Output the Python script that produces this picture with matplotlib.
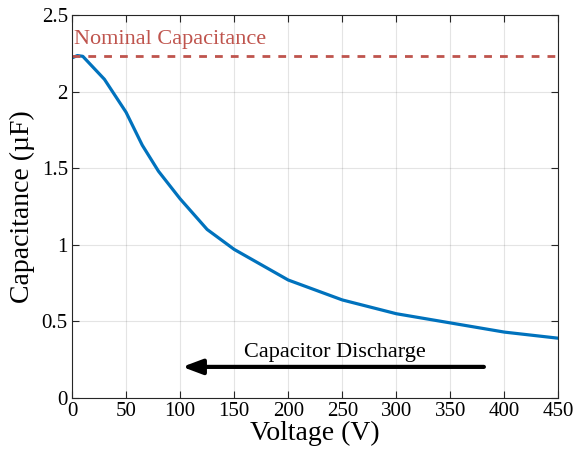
import matplotlib.pyplot as plt

plt.rcParams['font.family'] = ['Liberation Serif', 'DejaVu Serif']

# data
voltage = [0, 5, 10, 30, 50, 65, 80, 100, 125, 150, 200, 250, 300, 350, 400, 450]
capacitance = [2.22, 2.235, 2.23, 2.08, 1.865, 1.65, 1.48, 1.30, 1.10, 0.97, 0.77, 0.64, 0.55, 0.49, 0.43, 0.39]
nominal = 2.235

xticks = [0, 50, 100, 150, 200, 250, 300, 350, 400, 450]
yticks = [0, 0.5, 1, 1.5, 2, 2.5]
ytick_labels = ['0', '0.5', '1', '1.5', '2', '2.5']

blue = (0, 0.447, 0.741)
red = (0.75, 0.33, 0.30)
axis_col = (0.15, 0.15, 0.15)

fig = plt.figure(figsize=(5.76, 4.55), dpi=100)
ax = fig.add_axes([0.125, 0.1253, 0.8446, 0.8418])

ax.plot(voltage, capacitance, color=blue, linewidth=2.3)
ax.axhline(nominal, color=red, linestyle=(0, (2.8, 2.9)), linewidth=2)
ax.text(2, 2.31, 'Nominal Capacitance', color=red, fontsize=16, ha='left', va='baseline')

ax.annotate('', xy=(102, 0.203), xytext=(381, 0.203),
            arrowprops=dict(arrowstyle='-|>,head_length=1.2,head_width=0.45',
                            color='black', lw=3, shrinkA=0, shrinkB=0))
ax.text(243, 0.27, 'Capacitor Discharge', fontsize=16, ha='center', va='baseline')

ax.set_xlim(0, 450)
ax.set_ylim(0, 2.5)
ax.set_xticks(xticks)
ax.set_yticks(yticks)
ax.set_yticklabels(ytick_labels)
ax.tick_params(direction='in', top=True, right=True, labelsize=15,
               color=axis_col, labelcolor='black', length=5, pad=3)
ax.grid(True, color=(0.15, 0.15, 0.15), alpha=0.12, linewidth=0.8)
for s in ax.spines.values():
    s.set_color(axis_col)
    s.set_linewidth(0.8)

ax.set_xlabel('Voltage (V)', fontsize=20, labelpad=0)
ax.set_ylabel('Capacitance (µF)', fontsize=20, labelpad=5)

fig.savefig('out.png', dpi=100)
